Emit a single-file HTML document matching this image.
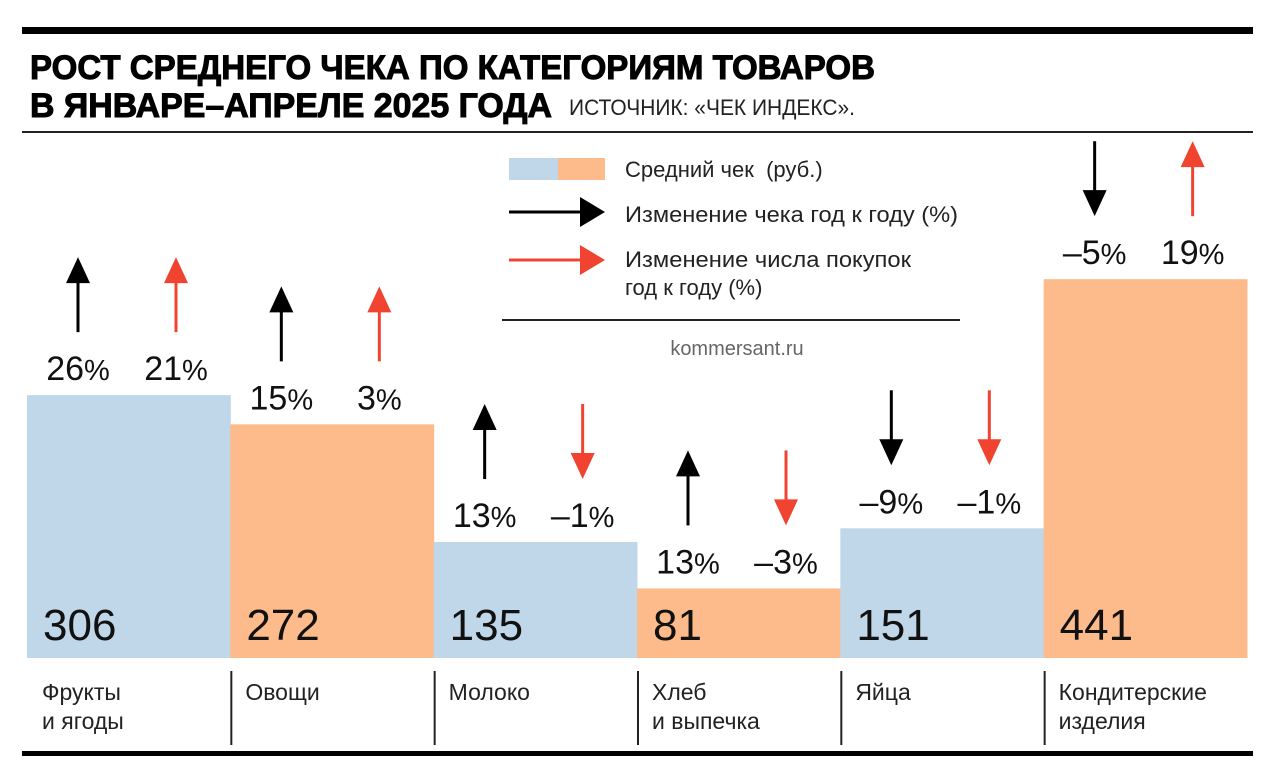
<!DOCTYPE html>
<html><head><meta charset="utf-8"><style>
html,body{margin:0;padding:0;background:#fff;}
svg{display:block;font-family:"Liberation Sans","DejaVu Sans",sans-serif;}
</style></head><body>
<svg id="chart" width="1280" height="784" viewBox="0 0 1280 784">
<rect x="22" y="27" width="1231" height="7" fill="#000"/>
<text x="30" y="79" font-size="34" font-weight="bold" stroke="#000" stroke-width="1" textLength="845" lengthAdjust="spacingAndGlyphs">РОСТ СРЕДНЕГО ЧЕКА ПО КАТЕГОРИЯМ ТОВАРОВ</text>
<text x="30" y="117" font-size="34" font-weight="bold" stroke="#000" stroke-width="1" textLength="522" lengthAdjust="spacingAndGlyphs">В ЯНВАРЕ–АПРЕЛЕ 2025 ГОДА</text>
<text x="569" y="115" font-size="22" fill="#222" textLength="286" lengthAdjust="spacingAndGlyphs">ИСТОЧНИК: «ЧЕК ИНДЕКС».</text>
<rect x="22" y="131" width="1231" height="2" fill="#222"/>
<g>
<rect x="509" y="158" width="49" height="22" fill="#bfd7e8"/>
<rect x="558" y="158" width="47" height="22" fill="#fdbb8c"/>
<text x="625" y="177" font-size="22" fill="#222">Средний чек&#160;&#160;(руб.)</text>
<line x1="509" y1="212" x2="582" y2="212" stroke="#000" stroke-width="3"/>
<polygon points="580,197 605,212 580,227" fill="#000"/>
<text x="625" y="222" font-size="22" fill="#222" textLength="333" lengthAdjust="spacingAndGlyphs">Изменение чека год к году (%)</text>
<line x1="509" y1="260" x2="582" y2="260" stroke="#f04431" stroke-width="3"/>
<polygon points="580,245 605,260 580,275" fill="#f04431"/>
<text x="625" y="267" font-size="22" fill="#222" textLength="286" lengthAdjust="spacingAndGlyphs">Изменение числа покупок</text>
<text x="625" y="295" font-size="22" fill="#222">год к году (%)</text>
<rect x="502" y="319" width="458" height="2" fill="#222"/>
<text x="737" y="355" font-size="20" fill="#666" text-anchor="middle">kommersant.ru</text>
</g>
<g id="bars"></g>
<rect x="22" y="751" width="1231" height="5" fill="#000"/>
</svg>
<script>
const categories = [["Фрукты","и ягоды"],["Овощи"],["Молоко"],["Хлеб","и выпечка"],["Яйца"],["Кондитерские","изделия"]];
const avgCheck = [306,272,135,81,151,441];
const checkChange = [26,15,13,13,-9,-5];
const purchasesChange = [21,3,-1,-3,-1,19];

const NS="http://www.w3.org/2000/svg";
const g=document.getElementById('bars');
const x0=27,bw=203.33,baseY=658,k=0.859;
const xPos=i=>x0+i*bw;
const yPos=v=>baseY-v*k;
function mk(t,a){const e=document.createElementNS(NS,t);for(const n in a)e.setAttribute(n,a[n]);g.appendChild(e);return e;}
function fmt(v){return (v<0?"–"+(-v):""+v);}
function arrow(cx,base,v,color,name){
  const top=base-123,bot=base-48;
  let shaft,head;
  if(v>=0){shaft=mk('line',{x1:cx,y1:top+24,x2:cx,y2:bot,stroke:color,'stroke-width':3});
    head=mk('polygon',{points:`${cx-12},${top+26} ${cx},${top} ${cx+12},${top+26}`,fill:color});}
  else{shaft=mk('line',{x1:cx,y1:top,x2:cx,y2:bot-24,stroke:color,'stroke-width':3});
    head=mk('polygon',{points:`${cx-12},${bot-26} ${cx},${bot} ${cx+12},${bot-26}`,fill:color});}
  
  
  
  
}
function pct(cx,base,v,name){
  const t=mk('text',{x:cx,y:base,'font-size':34,'text-anchor':'middle',fill:'#111'});
  t.innerHTML=fmt(v)+'<tspan font-size="29">%</tspan>';
  
  
}
avgCheck.forEach((v,i)=>{
  const x=xPos(i),y=yPos(v);
  const r=mk('rect',{x:x,y:y,width:bw+0.5,height:baseY-y,fill:i%2?'#fdbb8c':'#bfd7e8'});
  
  
  const vt=mk('text',{x:x+16,y:640,'font-size':44,fill:'#111'});
  vt.textContent=v;
  
  
  const lb=y-15;
  pct(x+51,lb,checkChange[i],'check-change-label-'+i);
  pct(x+149,lb,purchasesChange[i],'purchases-change-label-'+i);
  arrow(x+51,lb,checkChange[i],'#000','check-arrow-'+i);
  arrow(x+149,lb,purchasesChange[i],'#f04431','purchases-arrow-'+i);
  categories[i].forEach((line,j)=>{
    const ct=mk('text',{x:x+15,y:700+j*29,'font-size':23,fill:'#222'});
    ct.textContent=line;
    
    
  });
  if(i>0){const s=mk('line',{x1:x+1,y1:671,x2:x+1,y2:745,stroke:'#222','stroke-width':2});
    
    }
});
</script>
</body></html>
